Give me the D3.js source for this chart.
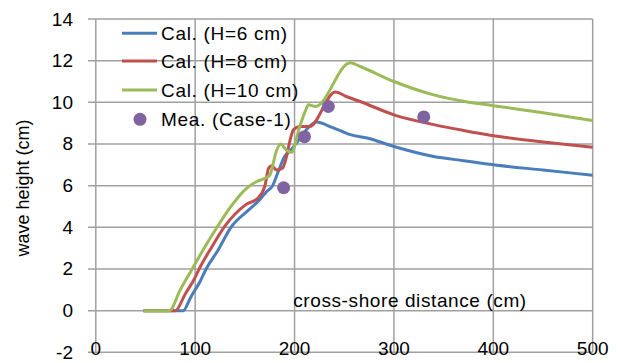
<!DOCTYPE html>
<html>
<head>
<meta charset="utf-8">
<script src="https://cdn.jsdelivr.net/npm/d3@7"></script>
<style>
  body { margin: 0; background: #fff; }
  text { font-family: "Liberation Sans", Arial, sans-serif; fill: #000; }
</style>
</head>
<body>
<div id="viz"></div>
<script>
// cross-shore distance (cm) vs wave height (cm)
const blueH6 = [[48,0],[88,0],[95,0.6],[100,1.0],[105,1.4],[111,2.0],[123,2.9],[136,4.0],[153,4.8],[165,5.33],[172,5.72],[178,6.0],[183,6.6],[190,7.4],[196,7.7],[206,8.3],[214,8.8],[222,9.05],[239,8.77],[248,8.6],[256,8.45],[273,8.29],[300,7.88],[340,7.4],[370,7.2],[400,7.0],[450,6.75],[500,6.5]];
const redH8 = [[48,0],[80,0],[90,0.8],[100,1.6],[104,2.0],[116,3.0],[129,4.0],[151,5.09],[163,5.4],[170,5.96],[174,6.85],[177,6.95],[182,6.75],[188,6.85],[199,8.69],[205,8.84],[215,8.84],[241,10.5],[252,10.28],[266,10.04],[300,9.4],[340,8.93],[370,8.65],[400,8.4],[450,8.1],[500,7.84]];
const greenH10 = [[48,0],[74,0],[85,1.0],[97,2.0],[109,3.0],[122,4.0],[136,5.0],[150,5.8],[162,6.2],[170,6.35],[175,6.5],[182,7.7],[186,8.0],[192,7.7],[197,7.6],[205,8.8],[211,9.6],[214,9.88],[221,9.8],[256,11.9],[266,11.72],[300,11.0],[340,10.36],[370,10.05],[400,9.84],[450,9.5],[500,9.13]];
const measured = [[189,5.9],[210,8.35],[234,9.8],[330,9.3]];

const seriesNames = ["Cal. (H=6 cm)", "Cal. (H=8 cm)", "Cal. (H=10 cm)", "Mea. (Case-1)"];
const xTicks = [0, 100, 200, 300, 400, 500];
const yTicks = [-2, 0, 2, 4, 6, 8, 10, 12, 14];

const width = 626, height = 363;
const svg = d3.select('#viz').append('svg')
    .attr('width', width)
    .attr('height', height);

const x = d3.scaleLinear().domain([0, 500]).range([95.8, 592.7]);
const y = d3.scaleLinear().domain([-2, 14]).range([352.3, 19]);

// grid
svg.append('g').selectAll('line')
    .data(yTicks).enter().append('line')
    .attr('x1', 88).attr('x2', x(500))
    .attr('y1', d => y(d)).attr('y2', d => y(d))
    .attr('stroke', '#a0a0a0').attr('stroke-width', 1.5);
svg.append('g').selectAll('line')
    .data(xTicks).enter().append('line')
    .attr('x1', d => x(d)).attr('x2', d => x(d))
    .attr('y1', y(14)).attr('y2', y(-2))
    .attr('stroke', '#a0a0a0').attr('stroke-width', 1.5);

// tick labels
svg.append('g').selectAll('text')
    .data(yTicks).enter().append('text')
    .attr('x', 73).attr('y', d => y(d))
    .attr('text-anchor', 'end').attr('dominant-baseline', 'central')
    .style('font-size', '19px')
    .text(d => d);
svg.append('g').selectAll('text')
    .data(xTicks).enter().append('text')
    .attr('x', d => x(d)).attr('y', 348)
    .attr('text-anchor', 'middle').attr('dominant-baseline', 'central')
    .style('font-size', '19px')
    .text(d => d);

// axis titles
svg.append('text')
    .attr('transform', 'translate(23,188) rotate(-90)')
    .attr('text-anchor', 'middle').attr('dominant-baseline', 'central')
    .style('font-size', '18px')
    .text('wave height (cm)');
svg.append('text')
    .attr('x', 410).attr('y', 300)
    .attr('text-anchor', 'middle').attr('dominant-baseline', 'central')
    .style('font-size', '19px').style('letter-spacing', '0.6px')
    .text('cross-shore distance (cm)');

// lines
const line = d3.line()
    .x(d => x(d[0]))
    .y(d => y(d[1]))
    .curve(d3.curveMonotoneX);

const lineData = [
    { data: blueH6, color: '#4a7ebb' },
    { data: redH8, color: '#c0504d' },
    { data: greenH10, color: '#9bbb59' }
];

svg.append('g').selectAll('path')
    .data(lineData).enter().append('path')
    .attr('d', d => line(d.data))
    .attr('fill', 'none')
    .attr('stroke', d => d.color)
    .attr('stroke-width', 3)
    .attr('stroke-linejoin', 'round');

svg.append('g').selectAll('circle')
    .data(measured).enter().append('circle')
    .attr('cx', d => x(d[0])).attr('cy', d => y(d[1]))
    .attr('r', 6.5)
    .attr('fill', '#8064a2');

// legend
const legend = svg.append('g');
const rows = [33.3, 61, 90, 119.3];
seriesNames.forEach((name, i) => {
    if (i < 3) {
        legend.append('line')
            .attr('x1', 122).attr('x2', 157)
            .attr('y1', rows[i]).attr('y2', rows[i])
            .attr('stroke', lineData[i].color).attr('stroke-width', 3);
    } else {
        legend.append('circle')
            .attr('cx', 140).attr('cy', rows[i]).attr('r', 6.5)
            .attr('fill', '#8064a2');
    }
    legend.append('text')
        .attr('x', 161).attr('y', rows[i])
        .attr('dominant-baseline', 'central')
        .style('font-size', '19px').style('letter-spacing', '0.7px')
        .text(name);
});
</script>
</body>
</html>
